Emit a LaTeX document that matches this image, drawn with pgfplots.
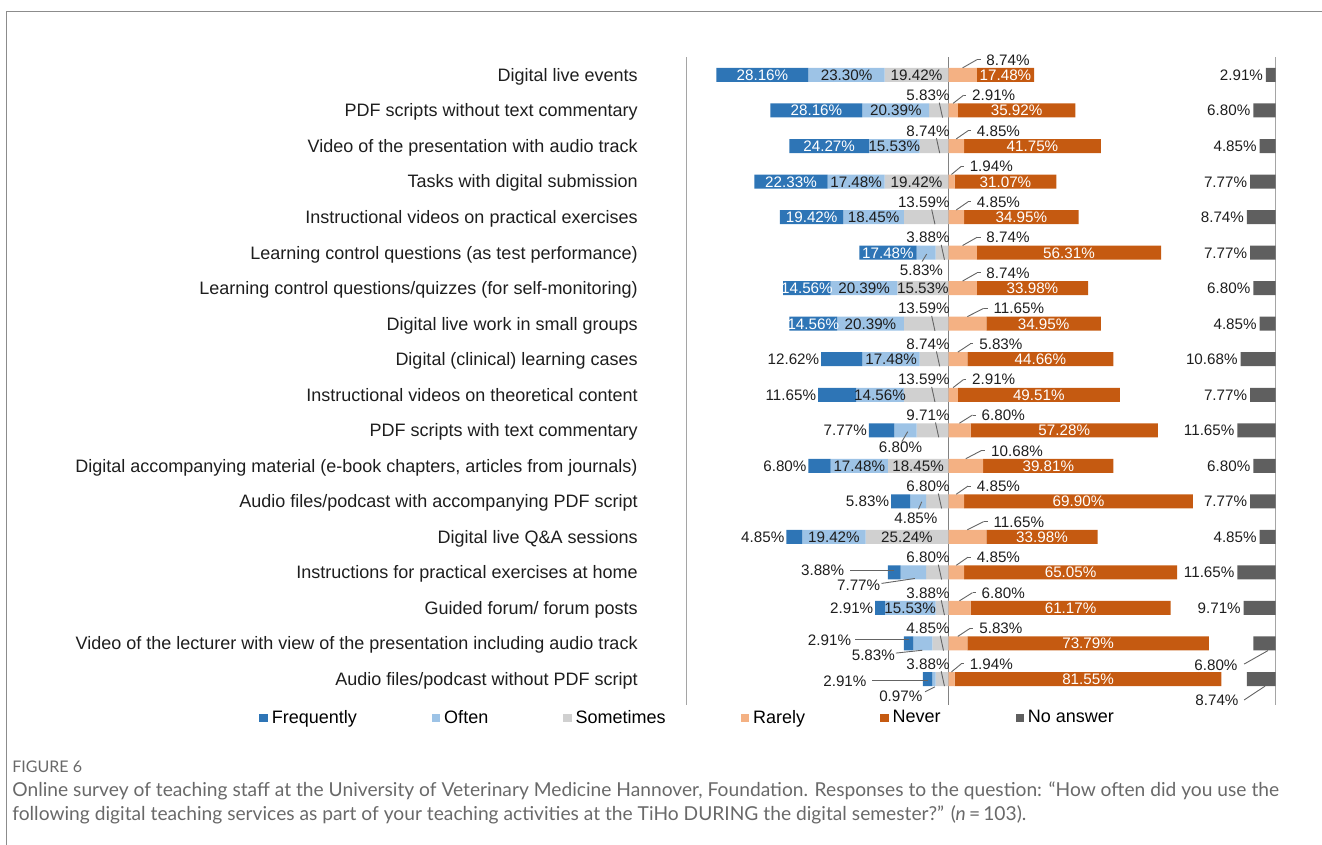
\documentclass[border=0pt]{standalone}
\usepackage{fontspec}
\setmainfont{Liberation Sans}
\newfontfamily\capfont{Lato}
\usepackage{pgfplots}
\usepackage{pgfplotstable}
\pgfplotsset{compat=1.18}

\definecolor{cF}{RGB}{46,117,182}
\definecolor{cO}{RGB}{157,195,230}
\definecolor{cS}{RGB}{208,208,208}
\definecolor{cR}{RGB}{244,177,131}
\definecolor{cN}{RGB}{197,90,17}
\definecolor{cNA}{RGB}{95,95,95}
\definecolor{cLine}{RGB}{165,165,165}
\definecolor{cMid}{RGB}{130,130,130}
\definecolor{cLead}{RGB}{100,100,100}
\definecolor{cTxt}{RGB}{30,30,30}
\definecolor{cCap}{RGB}{105,105,105}
\definecolor{cFrame}{RGB}{140,140,140}

% main data (percent)
\pgfplotstableread{
idx F O S R N NA
0 28.16 23.30 19.42 8.74 17.48 2.91
1 28.16 20.39 5.83 2.91 35.92 6.80
2 24.27 15.53 8.74 4.85 41.75 4.85
3 22.33 17.48 19.42 1.94 31.07 7.77
4 19.42 18.45 13.59 4.85 34.95 8.74
5 17.48 5.83 3.88 8.74 56.31 7.77
6 14.56 20.39 15.53 8.74 33.98 6.80
7 14.56 20.39 13.59 11.65 34.95 4.85
8 12.62 17.48 8.74 5.83 44.66 10.68
9 11.65 14.56 13.59 2.91 49.51 7.77
10 7.77 6.80 9.71 6.80 57.28 11.65
11 6.80 17.48 18.45 10.68 39.81 6.80
12 5.83 4.85 6.80 4.85 69.90 7.77
13 4.85 19.42 25.24 11.65 33.98 4.85
14 3.88 7.77 6.80 4.85 65.05 11.65
15 2.91 15.53 3.88 6.80 61.17 9.71
16 2.91 5.83 4.85 5.83 73.79 6.80
17 2.91 0.97 3.88 1.94 81.55 8.74
}\data

% labels placed away from their bars, with leader lines
\pgfplotstableread{
tx ty val lx ly lu lv
-8.2 5.49 5.83 -6.6 5.04 -1.4 0.21
-14.6 10.46 6.80 -12.4 10.04 -1.8 0.28
-9.9 12.47 4.85 -8.1 12.01 -1.0 0.21
-27.4 14.35 7.77 -10.2 14.17 -10.2 0.14
-38.4 13.93 3.88 -16.5 13.95 -13.5 0
-36.3 15.9 2.91 -12.1 15.9 -16.4 0
-22.9 16.32 5.83 -7.9 16.19 -8.1 0.08
-31.6 17.05 2.91 -6.3 17.03 -17.1 0
-14.5 17.47 0.97 -4.1 17.22 -3.0 0.14
81.8 16.6 6.80 97.7 16.2 -7.3 0.38
82.1 17.6 8.74 96.8 17.2 -6.4 0.39
}\ann

\pgfplotsset{
  /pgf/number format/assume math mode=true,
  base/.style={scale only axis, width=294.5pt, height=323.7pt,
    ymin=-0.5, ymax=17.72, y dir=reverse,
    enlargelimits=false, at={(343.25pt,70.2pt)}, anchor=south west, clip=false},
  sqlegend/.style={legend image code/.code={\fill[##1] (0pt,-2.1pt) rectangle (4.2pt,2.1pt);}},
  lbl/.style={draw=none, mark=none, forget plot, point meta=explicit,
    nodes near coords={\pgfmathprintnumber[fixed,fixed zerofill,precision=2]{\pgfplotspointmeta}\%},
    every node near coord/.append style={font=\fontsize{7.6}{8}\selectfont,
      text height=5.5pt, text depth=0pt, inner sep=0.8pt}},
  wl/.style={every node near coord/.append style={text=white}},
  bl/.style={every node near coord/.append style={text=cTxt}},
  lead/.style={forget plot, mark=none, draw=cLead, line width=0.45pt, -},
}

\begin{document}
\begin{tikzpicture}
\useasboundingbox (0,0) rectangle (661pt,422.5pt);

% bars: the axis runs from 0 to 180, the centre line is at 80
\begin{axis}[base, xmin=0, xmax=180, xbar stacked, bar width=7pt,
  ytick={0,...,17},
  yticklabels={{Digital live events},
    {PDF scripts without text commentary},
    {Video of the presentation with audio track},
    {Tasks with digital submission},
    {Instructional videos on practical exercises},
    {Learning control questions (as test performance)},
    {Learning control questions/quizzes (for self-monitoring)},
    {Digital live work in small groups},
    {Digital (clinical) learning cases},
    {Instructional videos on theoretical content},
    {PDF scripts with text commentary},
    {Digital accompanying material (e-book chapters, articles from journals)},
    {Audio files/podcast with accompanying PDF script},
    {Digital live Q\&A sessions},
    {Instructions for practical exercises at home},
    {Guided forum/ forum posts},
    {Video of the lecturer with view of the presentation including audio track},
    {Audio files/podcast without PDF script}},
  xtick=\empty,
  axis line style={draw=none},
  major tick style={draw=none}, major tick length=0pt,
  yticklabel style={font=\fontsize{9}{10}\selectfont, text=cTxt, anchor=east,
    inner sep=0pt, xshift=-24.25pt, text height=6.4pt, text depth=0pt},
  legend columns=6,
  legend cell align=left,
  legend style={at={(-0.7258,-0.0207)}, anchor=west, draw=none, fill=none,
    inner sep=0pt, font=\fontsize{9}{10}\selectfont,
    /tikz/every even column/.append style={column sep=35.5pt}},
]
\addplot[draw=none, fill=none, forget plot] table[x expr={80-\thisrow{F}-\thisrow{O}-\thisrow{S}}, y=idx] {\data};
\addplot[fill=cF, draw=none, sqlegend] table[x=F, y=idx] {\data};
\addlegendentry{Frequently}
\addplot[fill=cO, draw=none, sqlegend] table[x=O, y=idx] {\data};
\addlegendentry{Often}
\addplot[fill=cS, draw=none, sqlegend] table[x=S, y=idx] {\data};
\addlegendentry{Sometimes}
\addplot[fill=cR, draw=none, sqlegend] table[x=R, y=idx] {\data};
\addlegendentry{Rarely}
\addplot[fill=cN, draw=none, sqlegend] table[x=N, y=idx] {\data};
\addlegendentry{Never}
\addplot[draw=none, fill=none, forget plot] table[x expr={100-\thisrow{R}-\thisrow{N}-\thisrow{NA}}, y=idx] {\data};
\addplot[fill=cNA, draw=none, sqlegend] table[x=NA, y=idx] {\data};
\addlegendentry{No answer}

\draw[cLine, line width=0.7pt] (axis cs:0,-0.5) -- (axis cs:0,17.72);
\draw[cMid, line width=0.7pt] (axis cs:80,-0.5) -- (axis cs:80,17.72);
\draw[cLine, line width=0.7pt] (axis cs:180,-0.5) -- (axis cs:180,17.72);
\end{axis}

% labels: the axis runs from -80 to 100, the centre line is at 0
\begin{axis}[base, xmin=-80, xmax=100, hide axis]
% Frequently, inside
\addplot[lbl, wl, nodes near coords align={center}, skip coords between index={8}{18}]
  table[x expr={-\thisrow{O}-\thisrow{S}-0.5*\thisrow{F}}, y=idx, meta=F] {\data};
% Frequently, left of bar
\addplot[lbl, bl, nodes near coords align={east},
  skip coords between index={0}{8}, skip coords between index={14}{15}, skip coords between index={16}{18}]
  table[x expr={-\thisrow{F}-\thisrow{O}-\thisrow{S}}, y=idx, meta=F] {\data};
% Often, inside
\addplot[lbl, bl, nodes near coords align={center},
  skip coords between index={5}{6}, skip coords between index={10}{11}, skip coords between index={12}{13},
  skip coords between index={14}{15}, skip coords between index={16}{18}]
  table[x expr={-\thisrow{S}-0.5*\thisrow{O}}, y=idx, meta=O] {\data};
% Sometimes, inside
\addplot[lbl, bl, nodes near coords align={center},
  skip coords between index={1}{3}, skip coords between index={4}{6}, skip coords between index={7}{11},
  skip coords between index={12}{13}, skip coords between index={14}{18}]
  table[x expr={-0.5*\thisrow{S}}, y=idx, meta=S] {\data};
% Sometimes, above
\addplot[lbl, bl, nodes near coords align={east},
  skip coords between index={0}{1}, skip coords between index={3}{4}, skip coords between index={6}{7},
  skip coords between index={11}{12}, skip coords between index={13}{14}]
  table[x expr={1.0}, y expr={\thisrow{idx}-0.43}, meta=S] {\data};
\addplot[lead, quiver={u={-1.0}, v={-0.42}},
  skip coords between index={0}{1}, skip coords between index={3}{4}, skip coords between index={6}{7},
  skip coords between index={11}{12}, skip coords between index={13}{14}]
  table[x expr={-0.3*\thisrow{S}}, y expr={\thisrow{idx}+0.2}] {\data};
% Rarely, above right
\addplot[lbl, bl, nodes near coords align={west}]
  table[x expr={0.75*\thisrow{R}+4.5}, y expr={\thisrow{idx}-0.43}, meta=R] {\data};
\addplot[lead, quiver={u={0.8*(0.25*\thisrow{R}+3.3)}, v={-0.23}}]
  table[x expr={0.5*\thisrow{R}}, y expr={\thisrow{idx}-0.2}] {\data};
\addplot[lead, quiver={u={0.2*(0.25*\thisrow{R}+3.3)}, v={0}}]
  table[x expr={0.5*\thisrow{R}+0.8*(0.25*\thisrow{R}+3.3)}, y expr={\thisrow{idx}-0.43}] {\data};
% Never, inside
\addplot[lbl, wl, nodes near coords align={center}]
  table[x expr={\thisrow{R}+0.5*\thisrow{N}}, y=idx, meta=N] {\data};
% No answer, left of bar
\addplot[lbl, bl, nodes near coords align={east}, skip coords between index={16}{18}]
  table[x expr={100-\thisrow{NA}-0.3}, y=idx, meta=NA] {\data};
% labels with leader lines
\addplot[lbl, bl, nodes near coords align={center}] table[x=tx, y=ty, meta=val] {\ann};
\addplot[lead, quiver={u=\thisrow{lu}, v=\thisrow{lv}}] table[x=lx, y=ly] {\ann};
\end{axis}

\draw[cFrame, line width=0.65pt] (3.35pt,0pt) -- (3.35pt,416.65pt) -- (661pt,416.65pt);
\node[anchor=base west, inner sep=0pt, text=cCap, font=\capfont\fontsize{8}{9}\selectfont] at (6pt,36pt) {FIGURE 6};
\node[anchor=base west, inner sep=0pt, text=cCap, font=\capfont\fontsize{9.6}{11}\selectfont] at (6pt,24pt)
  {Online survey of teaching staff at the University of Veterinary Medicine Hannover, Foundation. Responses to the question: “How often did you use the};
\node[anchor=base west, inner sep=0pt, text=cCap, font=\capfont\fontsize{9.6}{11}\selectfont] at (6pt,12pt)
  {following digital teaching services as part of your teaching activities at the TiHo DURING the digital semester?” (\textit{n}\,=\,103).};
\end{tikzpicture}
\end{document}
